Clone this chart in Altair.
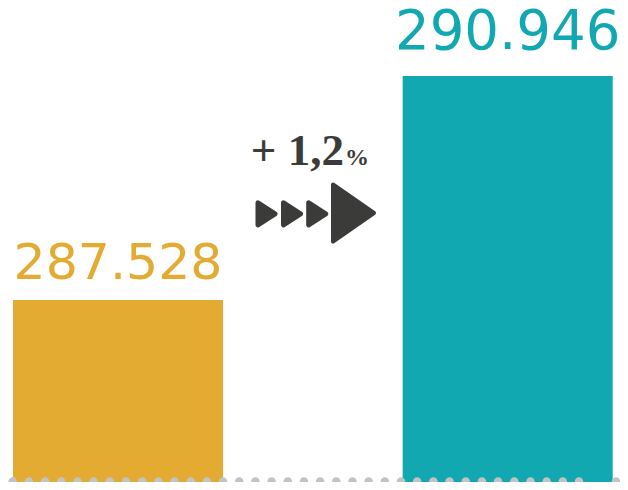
import altair as alt
import pandas as pd

# ---- data ----
categories = ["Anterior", "Actual"]
values = [287528, 290946]
value_labels = ["287.528", "290.946"]
change_text = ["+ 1,2"]
change_unit = ["%"]

# ---- styles ----
colors = ["#E3AB31", "#12A8B2"]
dark = "#3B3B39"
dot_grey = "#C3C3C3"

df = pd.DataFrame({"cat": categories, "value": values, "label": value_labels})
note = pd.DataFrame({"change": change_text, "unit": change_unit})

y_scale = alt.Scale(domain=[284752, 291983], zero=False, nice=False)
x_scale = alt.Scale(domain=categories, paddingInner=0.461, paddingOuter=0.01578, align=0.407)
color_scale = alt.Scale(domain=categories, range=colors)

base = alt.Chart(df).encode(
    x=alt.X("cat:N", scale=x_scale, axis=None, sort=categories),
    y=alt.Y("value:Q", scale=y_scale, axis=None),
    color=alt.Color("cat:N", scale=color_scale, legend=None),
)
bars = base.mark_bar(clip=False)

lab_first = base.mark_text(
    font="DejaVu Sans", fontSize=50.5, baseline="alphabetic", dy=-21
).encode(text="label:N").transform_filter(alt.datum.cat == categories[0])
lab_second = base.mark_text(
    font="DejaVu Sans", fontSize=54.5, baseline="alphabetic", dy=-27
).encode(text="label:N").transform_filter(alt.datum.cat == categories[1])

ann = alt.Chart(note)
pct = ann.mark_text(
    font="Liberation Serif", fontWeight="bold", fontSize=45,
    align="right", baseline="alphabetic", color=dark
).encode(x=alt.value(336), y=alt.value(157), text="change:N")
unit = ann.mark_text(
    font="Liberation Serif", fontWeight="bold", fontSize=24,
    align="left", baseline="alphabetic", color=dark
).encode(x=alt.value(337), y=alt.value(157), text="unit:N")

small_tri = "M -0.773 -1 L 0.773 0 L -0.773 1 Z"
big_tri = "M -0.719 -1 L 0.719 0 L -0.719 1 Z"
tris = [
    ann.mark_point(
        shape=small_tri, size=484, filled=True, fill=dark, stroke=dark,
        strokeWidth=5, strokeJoin="round", opacity=1
    ).encode(x=alt.value(px), y=alt.value(205.8))
    for px in (258.5, 284, 309.2)
]
big = ann.mark_point(
    shape=big_tri, size=3249, filled=True, fill=dark, stroke=dark,
    strokeWidth=4, strokeJoin="round", opacity=1
).encode(x=alt.value(345.5), y=alt.value(205))

dots = ann.mark_rule(
    color=dot_grey, strokeWidth=8.5, strokeCap="round", strokeDash=[0.01, 16.17]
).encode(x=alt.value(4.7), x2=alt.value(586.7), y=alt.value(473.5))
end_dot = ann.mark_point(
    shape="circle", size=72, filled=True, color=dot_grey, opacity=1
).encode(x=alt.value(608), y=alt.value(473.5))

chart = alt.layer(
    bars, lab_first, lab_second, pct, unit, *tris, big, dots, end_dot
).properties(
    width=612, height=474,
    autosize=alt.AutoSizeParams(type="none"),
    padding=0,
).configure_view(stroke=None)

chart.save("out.html", embed_options={"renderer": "svg", "actions": False})
